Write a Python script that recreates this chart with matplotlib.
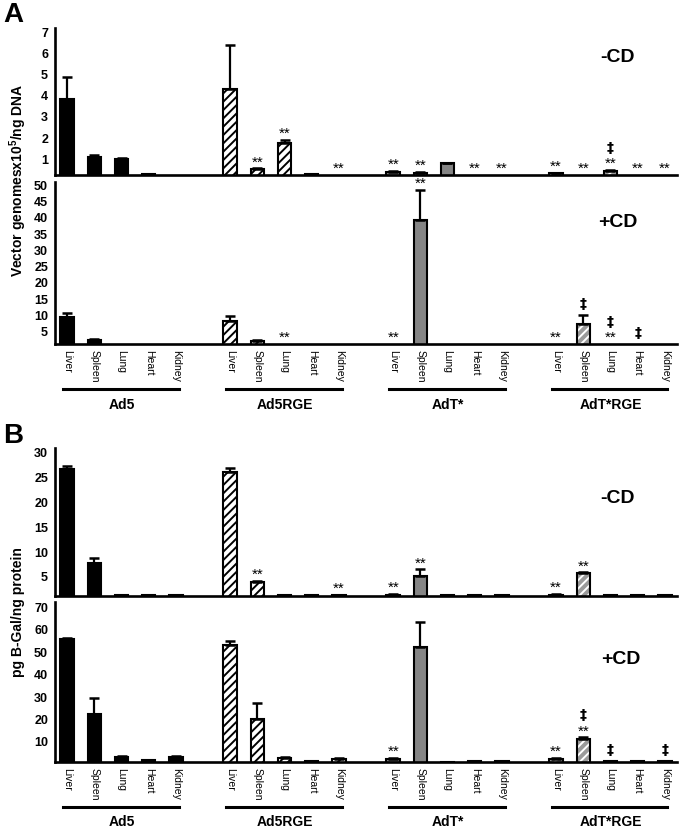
import numpy as np
import matplotlib
matplotlib.use('Agg')
import matplotlib.pyplot as plt
import matplotlib.transforms as mtransforms

plt.rcParams['font.family'] = ['Liberation Sans', 'DejaVu Sans']
plt.rcParams['mathtext.fontset'] = 'custom'
plt.rcParams['mathtext.rm'] = 'Liberation Sans'
plt.rcParams['mathtext.bf'] = 'Liberation Sans:bold'
plt.rcParams['hatch.linewidth'] = 1.4

# 組別與組織
groups = ['Ad5', 'Ad5RGE', 'AdT*', 'AdT*RGE']
tissues = ['Liver', 'Spleen', 'Lung', 'Heart', 'Kidney']

# A: vector genomes, -CD
vg_minus_mean = [[3.85, 1.12, 1.03, 0.30, 0.0],
                 [4.30, 0.54, 1.75, 0.30, 0.0],
                 [0.42, 0.37, 0.81, 0.0, 0.0],
                 [0.34, 0.0, 0.45, 0.0, 0.0]]
vg_minus_err = [[1.05, 0.08, 0.04, 0.0, 0.0],
                [2.10, 0.03, 0.15, 0.0, 0.0],
                [0.02, 0.02, 0.03, 0.0, 0.0],
                [0.01, 0.0, 0.03, 0.0, 0.0]]
# A: vector genomes, +CD
vg_plus_mean = [[9.6, 2.5, 0.0, 0.0, 0.0],
                [8.3, 2.2, 0.0, 0.0, 0.0],
                [0.0, 39.2, 0.0, 0.0, 0.0],
                [0.0, 7.4, 0.0, 0.0, 0.0]]
vg_plus_err = [[1.2, 0.2, 0.0, 0.0, 0.0],
               [1.6, 0.1, 0.0, 0.0, 0.0],
               [0.0, 9.4, 0.0, 0.0, 0.0],
               [0.0, 2.8, 0.0, 0.0, 0.0]]
# B: B-Gal, -CD
bgal_minus_mean = [[26.7, 7.9, 1.3, 1.4, 1.3],
                   [26.2, 4.0, 1.3, 1.3, 1.4],
                   [1.4, 5.2, 1.3, 1.3, 1.3],
                   [1.4, 5.7, 1.3, 1.3, 1.4]]
bgal_minus_err = [[0.7, 0.9, 0.0, 0.0, 0.0],
                  [0.7, 0.2, 0.0, 0.0, 0.0],
                  [0.1, 1.3, 0.0, 0.0, 0.0],
                  [0.1, 0.2, 0.0, 0.0, 0.0]]
# B: B-Gal, +CD
bgal_plus_mean = [[56.0, 22.3, 3.3, 1.8, 3.2],
                  [53.4, 20.2, 2.9, 1.6, 2.3],
                  [2.2, 52.3, 1.1, 1.5, 1.3],
                  [2.2, 11.5, 1.3, 1.4, 1.3]]
bgal_plus_err = [[0.3, 7.2, 0.4, 0.0, 0.4],
                 [1.6, 7.0, 0.4, 0.0, 0.3],
                 [0.5, 11.1, 0.0, 0.0, 0.0],
                 [0.5, 0.5, 0.0, 0.0, 0.0]]

# 顯著性標記 (組, 組織, 文字)
vg_minus_sig = [(1, 1, '**'), (1, 2, '**'), (1, 4, '**'), (2, 0, '**'), (2, 1, '**'),
                (2, 3, '**'), (2, 4, '**'), (3, 0, '**'), (3, 1, '**'), (3, 2, '‡**'),
                (3, 3, '**'), (3, 4, '**')]
vg_plus_sig = [(1, 2, '**'), (2, 0, '**'), (2, 1, '**'), (3, 0, '**'), (3, 1, '‡'),
               (3, 2, '‡**'), (3, 3, '‡')]
bgal_minus_sig = [(1, 1, '**'), (1, 4, '**'), (2, 0, '**'), (2, 1, '**'), (3, 0, '**'), (3, 1, '**')]
bgal_plus_sig = [(2, 0, '**'), (3, 0, '**'), (3, 1, '‡**'), (3, 2, '‡'), (3, 4, '‡')]

W, H = 691, 831


def ax_rect(left, right, top, bottom):
    return [left / W, 1 - bottom / H, (right - left) / W, (bottom - top) / H]


def draw_panel(ax, means, errs, sig, ylim, yticks, label, label_xy):
    for g in range(len(groups)):
        x = g * 6 + np.arange(len(tissues))
        m = np.array(means[g])
        e = np.array(errs[g])
        if g == 0:
            ax.bar(x, m, width=0.5, color='black', edgecolor='black', linewidth=1.5)
        elif g == 1:
            ax.bar(x, m, width=0.5, color='white', edgecolor='black', hatch='////', linewidth=1.5)
        elif g == 2:
            ax.bar(x, m, width=0.5, color='#858585', edgecolor='black', linewidth=1.5)
        else:
            ax.bar(x, m, width=0.5, color='#9a9a9a', edgecolor='white', hatch='////', linewidth=0)
            ax.bar(x, m, width=0.5, color='none', edgecolor='black', linewidth=1.5)
        mask = e > 0
        ax.errorbar(x[mask], m[mask], yerr=[np.zeros(mask.sum()), e[mask]], fmt='none',
                    ecolor='black', elinewidth=1.6, capsize=3.5, capthick=1.8)
    for g, t, txt in sig:
        x = g * 6 + t
        top = max(means[g][t] + errs[g][t], ylim[0])
        off = 5
        if '**' in txt:
            ax.annotate('**', xy=(x, top), xytext=(0, 1.5), textcoords='offset points',
                        ha='center', va='baseline', fontsize=11, annotation_clip=False)
            off = 13
        if '‡' in txt:
            ax.annotate('‡', xy=(x, top), xytext=(0, off), textcoords='offset points',
                        ha='center', va='baseline', fontsize=10, fontweight='bold',
                        family='DejaVu Sans', annotation_clip=False)
    ax.set_xlim(-0.45, 22.45)
    ax.set_ylim(*ylim)
    ax.set_yticks(yticks)
    ax.set_yticklabels([str(v) for v in yticks], fontweight='bold', fontsize=9)
    ax.tick_params(axis='both', length=0)
    ax.tick_params(axis='y', pad=5)
    for s in ['top', 'right']:
        ax.spines[s].set_visible(False)
    for s in ['left', 'bottom']:
        ax.spines[s].set_linewidth(1.9)
    ax.text(label_xy[0], label_xy[1], label, transform=ax.transAxes, fontsize=14,
            fontweight='bold', ha='center', va='center')


def draw_xaxis(ax, fig, line_y, text_y):
    xs = [g * 6 + t for g in range(len(groups)) for t in range(len(tissues))]
    ax.set_xticks(xs)
    ax.set_xticklabels(tissues * len(groups), rotation=-90, fontsize=7.5)
    ax.tick_params(axis='x', pad=4)
    trans = mtransforms.blended_transform_factory(ax.transData, fig.transFigure)
    for g, name in enumerate(groups):
        x0 = g * 6
        ax.plot([x0 - 0.15, x0 + 4.1], [1 - line_y / H] * 2, color='black', lw=2.2,
                transform=trans, clip_on=False)
        ax.text(x0 + 2, 1 - text_y / H, name, transform=trans, ha='center', va='center',
                fontsize=10, fontweight='bold')


fig = plt.figure(figsize=(W / 100, H / 100), dpi=100)

ax1 = fig.add_axes(ax_rect(55, 677, 28, 175))
ax2 = fig.add_axes(ax_rect(55, 677, 182, 344))
ax3 = fig.add_axes(ax_rect(55, 677, 448, 596))
ax4 = fig.add_axes(ax_rect(55, 677, 602, 762))

draw_panel(ax1, vg_minus_mean, vg_minus_err, vg_minus_sig, (0.26, 7.2),
           [1, 2, 3, 4, 5, 6, 7], '-CD', (0.905, 0.8))
draw_panel(ax2, vg_plus_mean, vg_plus_err, vg_plus_sig, (1.2, 51),
           [5, 10, 15, 20, 25, 30, 35, 40, 45, 50], '+CD', (0.905, 0.75))
draw_panel(ax3, bgal_minus_mean, bgal_minus_err, bgal_minus_sig, (1.15, 31),
           [5, 10, 15, 20, 25, 30], '-CD', (0.905, 0.66))
draw_panel(ax4, bgal_plus_mean, bgal_plus_err, bgal_plus_sig, (1.0, 72.5),
           [10, 20, 30, 40, 50, 60, 70], '+CD', (0.91, 0.64))

ax1.set_xticks([])
ax3.set_xticks([])
draw_xaxis(ax2, fig, 389, 405)
draw_xaxis(ax4, fig, 807, 822)

fig.text(18 / W, 1 - 180 / H, r'Vector genomesx10$^{\mathbf{5}}$/ng DNA', rotation=90,
         ha='center', va='center', fontsize=10, fontweight='bold')
fig.text(18 / W, 1 - 612 / H, 'pg B-Gal/ng protein', rotation=90,
         ha='center', va='center', fontsize=10, fontweight='bold')
fig.text(3 / W, 1 - 2 / H, 'A', fontsize=20, fontweight='bold', ha='left', va='top')
fig.text(3 / W, 1 - 423 / H, 'B', fontsize=20, fontweight='bold', ha='left', va='top')

plt.savefig('out.png', dpi=100)
